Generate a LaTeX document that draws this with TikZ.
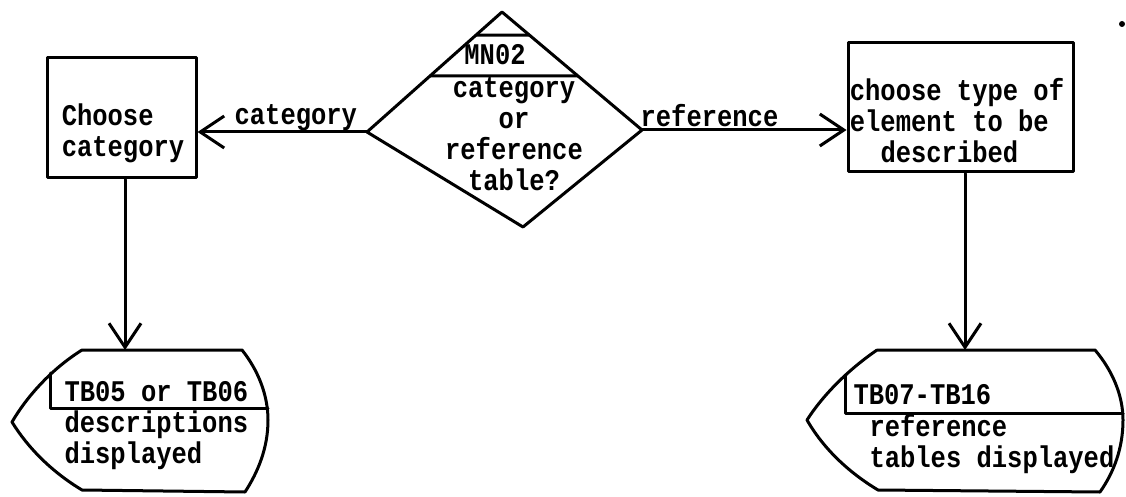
\documentclass[tikz,border=0pt]{standalone}
\usepackage{fontspec}
\setmainfont{Liberation Mono}[FakeStretch=0.85]
\usetikzlibrary{arrows.meta,calc}
\begin{document}
\begin{tikzpicture}[x=1pt,y=-1pt,
  line width=3pt, line join=round, line cap=round,
  txt/.style={font=\bfseries\fontsize{30}{31}\selectfont, inner sep=0pt},
  procbox/.style={draw, rectangle, inner sep=0pt},
  arr/.style={-{Straight Barb[length=24pt,width=32pt,line width=3pt]}},
  lbl/.style={txt, yshift=14pt}]
\useasboundingbox (0,0) rectangle (1126,497);

% decision
\coordinate (dtop) at (502,12);
\coordinate (dleft) at (367,132);
\coordinate (dright) at (642,130);
\coordinate (dbot) at (523,227);
\draw (dtop) -- (dright) -- (dbot) -- (dleft) -- cycle;
\draw ($(dtop)!0.192!(dleft)$) -- ($(dtop)!0.195!(dright)$);
\draw ($(dtop)!0.533!(dleft)$) -- ($(dtop)!0.542!(dright)$);
\node[txt] (mn) at (495,55) {MN02};
\node[txt, align=center] (dq) at (514,134) {category\\or\\reference\\table?};

% process boxes
\node[procbox, minimum width=149pt, minimum height=120pt] (lbox) at (121.5,118) {};
\node[txt, align=left] (ltxt) at (123,133) {Choose\\category};
\node[procbox, minimum width=225pt, minimum height=129pt] (rbox) at (960.5,107.5) {};
\node[txt, align=left] (rtxt) at (957,121) {choose type of\\element to be\\\phantom{xx}described};

% displays
\coordinate (ltop) at (125,350);
\draw (82,350) -- (242,350)
  .. controls (258,370) and (268,395) .. (268,420)
  .. controls (268,448) and (258,472) .. (245,492)
  -- (82,490)
  .. controls (52,472) and (28,448) .. (12,422)
  .. controls (26,398) and (50,370) .. (82,350);
\draw (50,373) -- (50,408) -- (268,408);
\node[txt, align=left, anchor=west] (ldtxt) at (63,426) {TB05 or TB06\\descriptions\\displayed};

\coordinate (rtop) at (965,350);
\draw (877,350) -- (1095,350)
  .. controls (1112,370) and (1123,395) .. (1123,420)
  .. controls (1123,448) and (1114,472) .. (1100,492)
  -- (878,490)
  .. controls (848,472) and (823,448) .. (807,420)
  .. controls (821,398) and (845,372) .. (877,350);
\draw (845,375) -- (845,413) -- (1123,413);
\node[txt, anchor=west] (rdhead) at (852,395) {TB07-TB16};
\node[txt, align=left, anchor=west] (rdtxt) at (868,444) {reference\\tables displayed};

% connectors
\draw[arr] (dleft) -- node[lbl, pos=0.42] {category} (dleft -| lbox.east);
\draw[arr] (dright) -- node[lbl, pos=0.33] {reference} (dright -| rbox.west);
\draw[arr] (lbox.south -| ltop) -- (ltop);
\draw[arr] (rbox.south -| rtop) -- (rtop);

% stray mark
\fill (1122,24) circle (3pt);
\end{tikzpicture}
\end{document}
